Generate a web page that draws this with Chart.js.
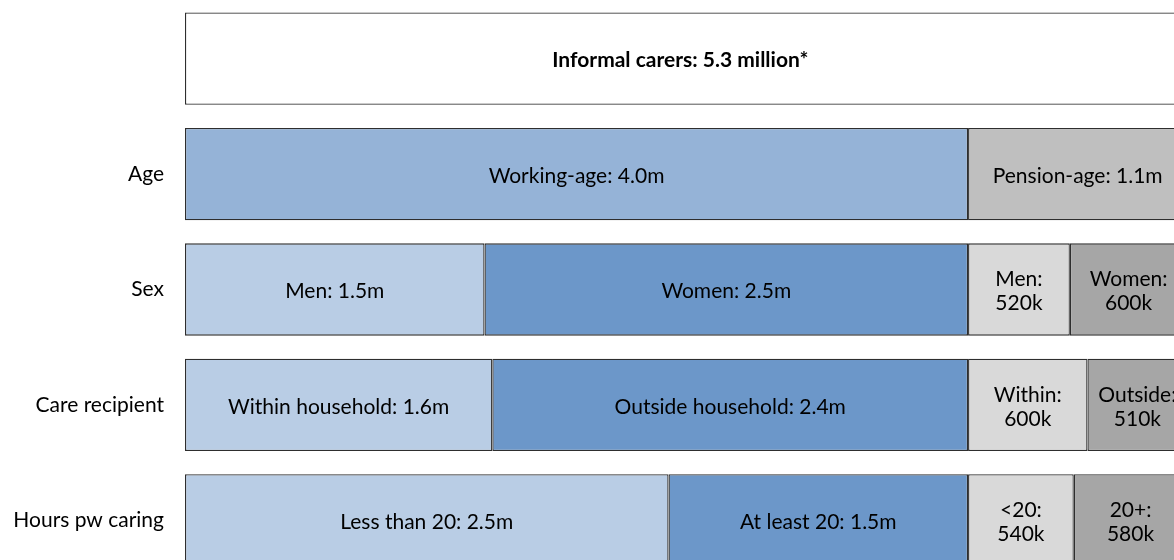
<!DOCTYPE html>
<html>
<head>
<meta charset="utf-8">
<script src="https://cdn.jsdelivr.net/npm/chart.js@4.4.1/dist/chart.umd.min.js"></script>
<style>
  html, body { margin: 0; padding: 0; background: #fff; overflow: hidden; }
  #wrap { width: 1174px; height: 560px; overflow: hidden; position: relative; }
  canvas { display: block; }
</style>
</head>
<body>
<div id="wrap"><canvas id="c" width="1174" height="578"></canvas></div>
<script>
// Categories (rows), top row is the total bar
const categories = ["", "Age", "Sex", "Care recipient", "Hours pw caring"];

// Segment values in millions, stacked left to right
const seg1Values = [5.06, 4.00, 1.53, 1.57, 2.47];
const seg2Values = [null, 1.12, 2.47, 2.43, 1.53];
const seg3Values = [null, null, 0.52, 0.61, 0.54];
const seg4Values = [null, null, 0.60, 0.51, 0.58];

// Segment labels
const seg1Labels = ["Informal carers: 5.3 million*", "Working-age: 4.0m", "Men: 1.5m", "Within household: 1.6m", "Less than 20: 2.5m"];
const seg2Labels = ["", "Pension-age: 1.1m", "Women: 2.5m", "Outside household: 2.4m", "At least 20: 1.5m"];
const seg3Labels = ["", "", "Men:\n520k", "Within:\n600k", "<20:\n540k"];
const seg4Labels = ["", "", "Women:\n600k", "Outside:\n510k", "20+:\n580k"];

const seg1Colors = ["#FFFFFF", "#95B3D7", "#B9CDE5", "#B9CDE5", "#B9CDE5"];
const seg2Colors = ["#FFFFFF", "#BFBFBF", "#6C97C9", "#6C97C9", "#6C97C9"];
const seg3Colors = ["#D9D9D9", "#D9D9D9", "#D9D9D9", "#D9D9D9", "#D9D9D9"];
const seg4Colors = ["#A6A6A6", "#A6A6A6", "#A6A6A6", "#A6A6A6", "#A6A6A6"];

const xMax = 5.052;

const FONT = "Lato, 'Open Sans', sans-serif";
const FS = 21;

function mkDs(values, colors, labels) {
  return {
    data: values,
    backgroundColor: colors,
    borderColor: "#2E2E2E",
    borderWidth: 1.3,
    borderSkipped: false,
    barPercentage: 0.8,
    categoryPercentage: 1.0,
    segLabels: labels
  };
}

const labelPlugin = {
  id: "segLabels",
  afterDatasetsDraw(chart) {
    const ctx = chart.ctx;
    ctx.save();
    ctx.textAlign = "center";
    ctx.textBaseline = "middle";
    ctx.fillStyle = "#000";
    chart.data.datasets.forEach((ds, di) => {
      const meta = chart.getDatasetMeta(di);
      meta.data.forEach((el, i) => {
        const v = ds.data[i];
        const lab = ds.segLabels[i];
        if (v == null || !lab) return;
        const cx = (el.x + el.base) / 2;
        const cy = el.y + 2;
        const bold = (i === 0);
        ctx.font = (bold ? "bold " : "") + FS + "px " + FONT;
        const lines = lab.split("\n");
        const lh = 24;
        const start = cy - (lines.length - 1) * lh / 2;
        lines.forEach((ln, k) => ctx.fillText(ln, cx, start + k * lh));
      });
    });
    ctx.restore();
  }
};

new Chart(document.getElementById("c"), {
  type: "bar",
  data: {
    labels: categories,
    datasets: [
      mkDs(seg1Values, seg1Colors, seg1Labels),
      mkDs(seg2Values, seg2Colors, seg2Labels),
      mkDs(seg3Values, seg3Colors, seg3Labels),
      mkDs(seg4Values, seg4Colors, seg4Labels)
    ]
  },
  options: {
    indexAxis: "y",
    responsive: false,
    animation: false,
    devicePixelRatio: 1,
    layout: { padding: { top: 1, right: 0, bottom: 0, left: 0 } },
    plugins: { legend: { display: false }, tooltip: { enabled: false } },
    scales: {
      x: { stacked: true, display: false, min: 0, max: xMax },
      y: {
        stacked: true,
        grid: { display: false, drawTicks: false },
        border: { display: false },
        ticks: { color: "#000", padding: 21, font: { family: FONT, size: FS } },
        afterFit(scale) {
          scale.width = 185;
          scale.paddingTop = 0;
          scale.paddingBottom = 0;
        }
      }
    }
  },
  plugins: [labelPlugin]
});
</script>
</body>
</html>
